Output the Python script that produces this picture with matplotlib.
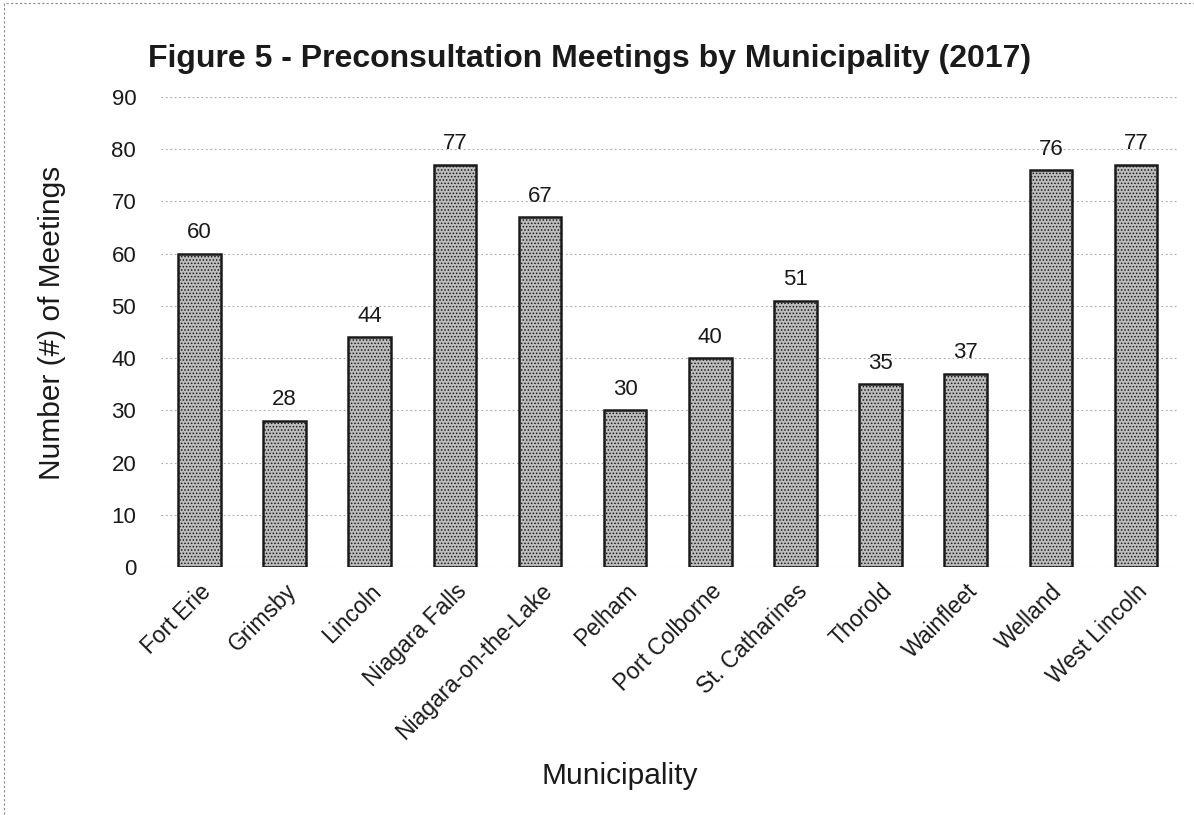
import matplotlib.pyplot as plt
from matplotlib.patches import Rectangle

municipalities = [
    "Fort Erie", "Grimsby", "Lincoln", "Niagara Falls", "Niagara-on-the-Lake",
    "Pelham", "Port Colborne", "St. Catharines", "Thorold", "Wainfleet",
    "Welland", "West Lincoln",
]
meetings = [60, 28, 44, 77, 67, 30, 40, 51, 35, 37, 76, 77]
y_ticks = list(range(0, 100, 10))

plt.rcParams['font.family'] = ['Liberation Sans', 'DejaVu Sans']
plt.rcParams['hatch.color'] = '#7e7e7e'
plt.rcParams['hatch.linewidth'] = 0.7

fig = plt.figure(figsize=(11.94, 8.15), dpi=100)
ax = fig.add_axes([0.135, 0.304, 0.852, 0.577])

x = range(len(municipalities))
bars = ax.bar(x, meetings, width=0.5, color='#bdbdbd', edgecolor='#1a1a1a',
              linewidth=1.8, hatch='.....', zorder=3)

for xi, v in zip(x, meetings):
    ax.text(xi, v + 2, str(v), ha='center', va='bottom', fontsize=16, color='#1a1a1a')

ax.set_ylim(0, 90)
ax.set_xlim(-0.45, 11.5)
ax.set_yticks(y_ticks)
ax.set_xticks(list(x))
ax.set_xticklabels(municipalities, rotation=45, ha='right', rotation_mode='anchor',
                   fontsize=16.5, color='#1a1a1a')
ax.tick_params(axis='y', labelsize=16, colors='#1a1a1a', length=0, pad=18)
ax.tick_params(axis='x', length=0, pad=9)
ax.grid(axis='y', linestyle=(0, (1.5, 2.5)), color='#a8a8a8', linewidth=0.8, zorder=0)
for s in ax.spines.values():
    s.set_visible(False)

ax.set_ylabel('Number (#) of Meetings', fontsize=21.5, color='#1a1a1a')
ax.yaxis.set_label_coords(-0.094, 0.52)
ax.set_xlabel('Municipality', fontsize=21.5, color='#1a1a1a')
ax.xaxis.set_label_coords(0.451, -0.415)
fig.text(0.494, 0.927, 'Figure 5 - Preconsultation Meetings by Municipality (2017)',
         ha='center', va='center', fontsize=23, fontweight='bold', color='#1a1a1a')

# thin dotted page border
fig.patches.append(Rectangle((0.003, -0.01), 1.1, 1.006, transform=fig.transFigure,
                             fill=False, edgecolor='#888888', linewidth=0.8,
                             linestyle=(0, (2, 2))))

fig.savefig('out.png', dpi=100)
